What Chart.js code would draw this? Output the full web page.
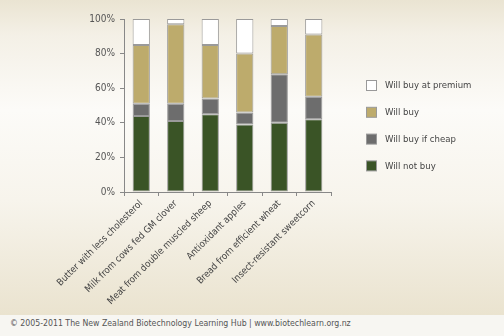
<!DOCTYPE html>
<html><head><meta charset="utf-8">
<script src="https://cdn.jsdelivr.net/npm/chart.js@4.4.0/dist/chart.umd.min.js"></script>
<style>
html,body{margin:0;padding:0;width:504px;height:336px;overflow:hidden;}
#wrap{position:absolute;left:0;top:0;width:504px;height:315px;background:linear-gradient(to bottom,#eae4d2 0px,#f4f0e6 35px,#fcfbf8 110px,#f7f4ec 200px,#eae3cf 315px);}
#footer{position:absolute;left:0;top:315px;width:504px;height:21px;background:#f7f6f2;font-family:"DejaVu Sans Condensed","DejaVu Sans",sans-serif;font-size:8.7px;color:#555;line-height:17px;padding-left:10px;box-sizing:border-box;white-space:nowrap;}
</style></head>
<body>
<div id="wrap"><canvas id="c" width="504" height="315"></canvas></div>
<div id="footer">© 2005-2011 The New Zealand Biotechnology Learning Hub | www.biotechlearn.org.nz</div>
<script>
const categories = ["Butter with less cholesterol","Milk from cows fed GM clover","Meat from double muscled sheep","Antioxidant apples","Bread from efficient wheat","Insect-resistant sweetcorn"];
const willNotBuy = [44,41,45,39,40,42];
const willBuyIfCheap = [7,10,9,7,28,13];
const willBuy = [34,46,31,34,28,36];
const willBuyAtPremium = [15,3,15,20,4,9];
const yTicks = [0,20,40,60,80,100];

const FONT = '"DejaVu Sans Condensed","DejaVu Sans",sans-serif';

const legendPlugin = {
  id:'customLegend',
  afterDraw(chart){
    const ctx = chart.ctx;
    const ds = chart.data.datasets.slice().reverse();
    ctx.save();
    ctx.font = '9.5px ' + FONT;
    ctx.textBaseline = 'middle';
    ds.forEach((d,i)=>{
      const y = 86 + i*26.8;
      ctx.fillStyle = d.backgroundColor;
      ctx.fillRect(366.5, y-5.5, 10, 10);
      ctx.strokeStyle = '#999';
      ctx.lineWidth = 1;
      ctx.strokeRect(366.5, y-5.5, 10, 10);
      ctx.fillStyle = '#444';
      ctx.fillText(d.label, 385, y);
    });
    ctx.restore();
  }
};

new Chart(document.getElementById('c'), {
  type:'bar',
  data:{
    labels:categories,
    datasets:[
      {label:'Will not buy', data:willNotBuy, backgroundColor:'#3a5426'},
      {label:'Will buy if cheap', data:willBuyIfCheap, backgroundColor:'#6d6d6d'},
      {label:'Will buy', data:willBuy, backgroundColor:'#bdab6c'},
      {label:'Will buy at premium', data:willBuyAtPremium, backgroundColor:'#ffffff'}
    ].map(d=>Object.assign(d,{borderColor:'#9a9a9a',borderWidth:1,borderSkipped:false,barPercentage:0.5,categoryPercentage:1}))
  },
  options:{
    responsive:false,
    animation:false,
    layout:{padding:{top:19,right:173,bottom:0,left:0}},
    plugins:{legend:{display:false},tooltip:{enabled:false}},
    scales:{
      x:{
        stacked:true,
        grid:{display:true,drawOnChartArea:false,drawTicks:true,tickLength:4,color:'#888',offset:true},
        border:{display:true,color:'#888',width:1},
        ticks:{maxRotation:45,minRotation:45,color:'#444',font:{family:FONT,size:9.5},padding:2},
        afterFit(s){ s.height = 123; }
      },
      y:{
        stacked:true,
        min:0,max:100,
        afterBuildTicks(s){ s.ticks = yTicks.map(v=>({value:v})); },
        grid:{display:true,drawOnChartArea:false,drawTicks:true,tickLength:4,color:'#888'},
        border:{display:true,color:'#888',width:1},
        ticks:{color:'#555',font:{family:FONT,size:10},padding:5,callback:v=>v+'%'},
        afterFit(s){ s.width = 124; }
      }
    }
  },
  plugins:[legendPlugin]
});
</script>
</body></html>
